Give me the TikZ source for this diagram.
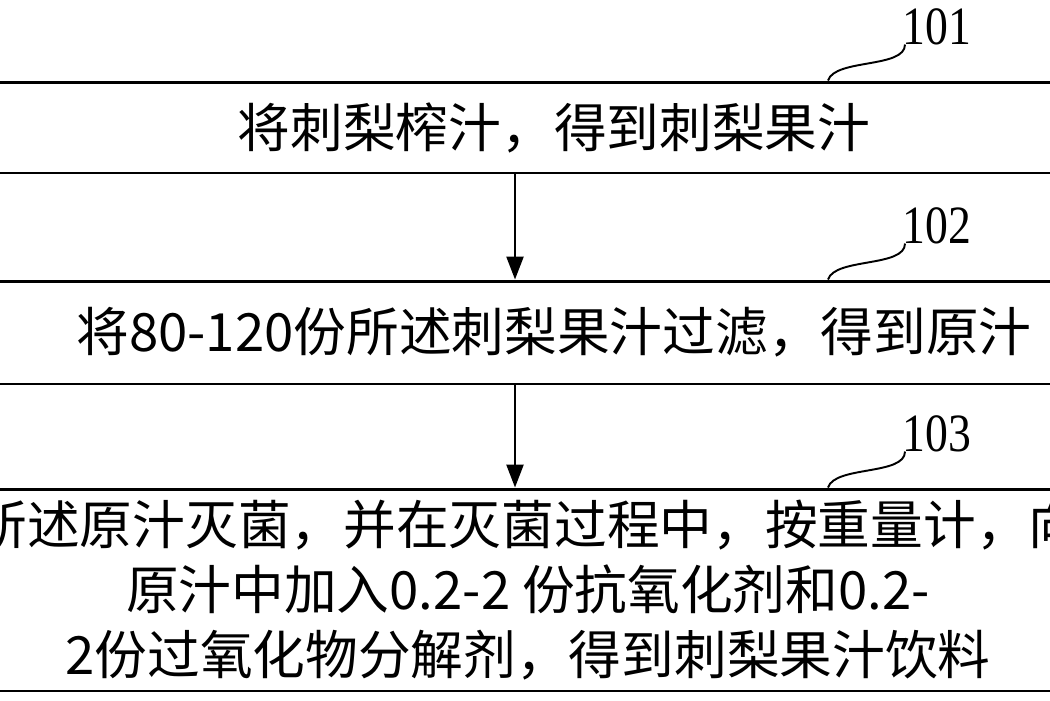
\documentclass[tikz,border=0pt]{standalone}
\usepackage{fontspec}
\setmainfont{Liberation Serif}
\newfontfamily\cjk{Noto Sans CJK SC}
\usetikzlibrary{arrows.meta,calc}
\begin{document}
\begin{tikzpicture}[x=0.02cm,y=-0.02cm,
  box/.style={draw, line width=1.7pt, minimum width=23.6cm, inner sep=0pt, align=center,
              font=\cjk\fontsize{30}{37}\selectfont},
  arr/.style={line width=1.4pt, -{Triangle[length=4.6mm,width=3.4mm]}},
  squig/.style={line width=1.1pt},
  lab/.style={font=\fontsize{26}{30}\selectfont, inner sep=0pt, anchor=base west}]
\clip (0,0) rectangle (1050,700);
\node[box, minimum height=1.82cm] (b1) at (554,127.5) {将刺梨榨汁，得到刺梨果汁};
\node[box, minimum height=2.06cm] (b2) at (554,332.5) {将80-120份所述刺梨果汁过滤，得到原汁};
\node[box, minimum height=4.04cm] (b3) at (528,590) {所述原汁灭菌，并在灭菌过程中，按重量计，向\\原汁中加入0.2-2 份抗氧化剂和0.2-\\2份过氧化物分解剂，得到刺梨果汁饮料};
\draw[arr] ($(b1.south)+(-39,0)$) -- ($(b2.north)+(-39,0)$);
\draw[arr] ($(b2.south)+(-39,0)$) -- ($(b3.north)+(-13,0)$);
\foreach \b/\t/\dx in {b1/101/274, b2/102/274, b3/103/300} {
  \coordinate (s\b) at ($(\b.north)+(\dx,0)$);
  \coordinate (e\b) at ($(s\b)+(77,-36)$);
  \node[lab] (l\b) at ($(e\b)+(-3,0)$) {\scalebox{1}[1.18]{\t}};
  \draw[squig] (s\b) .. controls +(7,-22) and +(0,24) .. (e\b);
}
\end{tikzpicture}
\end{document}
